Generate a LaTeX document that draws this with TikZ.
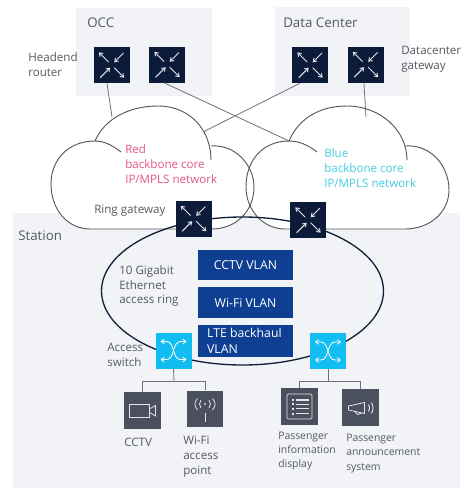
\documentclass[tikz,border=0pt]{standalone}
\usepackage{fontspec}
\setmainfont{Open Sans}
\usetikzlibrary{arrows.meta}
\definecolor{panel}{HTML}{F1F3F6}
\definecolor{navy}{HTML}{0D1B3B}
\definecolor{cyanbox}{HTML}{12BDF2}
\definecolor{vlanblue}{HTML}{0F3F92}
\definecolor{devgray}{HTML}{4B505F}
\definecolor{txt}{HTML}{555A60}
\definecolor{redtxt}{HTML}{E5577F}
\definecolor{bluetxt}{HTML}{45CDE2}
\definecolor{linegray}{HTML}{6E7278}
\definecolor{cloudline}{HTML}{54585E}
\definecolor{ringline}{HTML}{14203A}
\tikzset{
  panelbox/.style={fill=panel,draw=none},
  routerbox/.style={fill=navy,draw=none,minimum size=27pt,inner sep=0pt},
  switchbox/.style={fill=cyanbox,draw=none,minimum size=27pt,inner sep=0pt},
  devicebox/.style={fill=devgray,draw=none,minimum size=27.5pt,inner sep=0pt},
  vlanbox/.style={fill=vlanblue,draw=none,text=white,minimum width=71pt,inner sep=0pt,font=\fontsize{9.2}{11.8}\selectfont},
  lbl/.style={anchor=west,align=left,inner sep=0pt,text=txt,font=\fontsize{8.7}{11.2}\selectfont},
  biglbl/.style={anchor=west,align=left,inner sep=0pt,text=txt,font=\fontsize{10}{12}\selectfont},
  smalllbl/.style={anchor=west,align=left,inner sep=0pt,text=txt,font=\fontsize{7.8}{10.6}\selectfont},
  link/.style={draw=linegray,line width=.6pt},
  cloudedge/.style={draw=cloudline,line width=.7pt},
  ringedge/.style={draw=ringline,line width=1pt},
  iconline/.style={draw=white!88!navy,line width=.7pt,-{Straight Barb[length=2.4pt,width=3.4pt]}},
  swline/.style={draw=white,line width=.65pt,{Straight Barb[length=2.2pt,width=3.4pt]}-{Straight Barb[length=2.2pt,width=3.4pt]}},
  devline/.style={draw=white!85!devgray,line width=.6pt},
  routericon/.pic={
    \draw[iconline] (-3,-3) -- (-12.7,-12.7);
    \draw[iconline] (12,-12) -- (2.7,-2.7);
    \draw[iconline] (-11.3,12.7) -- (-1.3,2.7);
    \draw[iconline] (2.7,2.7) -- (12.7,12.7);
  },
  switchicon/.pic={
    \draw[swline] (-13,-9) -- (-7,-9) .. controls (1.5,-9) and (-1.5,9) .. (7,9) -- (13,9);
    \draw[swline] (13,-9) -- (7,-9) .. controls (-1.5,-9) and (1.5,9) .. (-7,9) -- (-13,9);
  },
  cameraicon/.pic={
    \draw[devline] (-12.7,-6) rectangle (7,6.5);
    \draw[devline] (7,-1.5) -- (13,-5) -- (13,5.5) -- (7,2);
  },
  wifiicon/.pic={
    \draw[devline] (0,4) -- (0,13);
    \fill[white!85!devgray] (0,-5) circle (1);
    \draw[devline] (-4,-9) .. controls (-6,-6.5) and (-6,-3.5) .. (-4,-1);
    \draw[devline] (4,-9) .. controls (6,-6.5) and (6,-3.5) .. (4,-1);
    \draw[devline] (-7.5,-10.5) .. controls (-11,-6.5) and (-11,-3.5) .. (-7.5,1);
    \draw[devline] (7.5,-10.5) .. controls (11,-6.5) and (11,-3.5) .. (7.5,1);
  },
  displayicon/.pic={
    \draw[devline,rounded corners=1pt] (-12.5,-12.5) rectangle (12.5,12.5);
    \foreach \yy in {-6.5,-2.2,2.3,7} {
      \fill[white!85!devgray] (-8,\yy-1) rectangle (-6,\yy+1);
      \draw[devline,line width=.8pt] (-3.5,\yy) -- (9,\yy);
    }
  },
  speakericon/.pic={
    \draw[devline] (-12,-1.5) -- (4,-5) -- (4,6) -- (-12,2.5) -- cycle;
    \draw[devline] (-6,3.5) -- (-3,7) -- (1,5.5);
    \draw[devline,line width=.7pt] (8,-3) .. controls (9.5,-1) and (9.5,2) .. (8,4);
    \draw[devline,line width=.7pt] (11,-5) .. controls (13,-2) and (13,3) .. (11,6);
  },
}
\begin{document}
\begin{tikzpicture}[x=.75pt,y=-.75pt]
\useasboundingbox (0,0) rectangle (474,500);
\fill[white] (0,0) rectangle (474,500);
% panels
\path[panelbox] (76,8) rectangle (212,96);
\path[panelbox] (275,7) rectangle (410,96);
\path[panelbox] (13,213) rectangle (460,488);
% cloud fills
\fill[white] (95,141) .. controls (105,118) and (130,106) .. (158,106) .. controls (190,106) and (211,125) .. (211,146)
  .. controls (235,144) and (254,165) .. (254,187) .. controls (254,212) and (235,229) .. (212,229) -- (90,229)
  .. controls (68,229) and (51,210) .. (51,184) .. controls (51,160) and (68,141) .. (95,141) -- cycle;
\fill[white] (289,141) .. controls (299,118) and (320,106) .. (347,106) .. controls (380,106) and (405,125) .. (405,146)
  .. controls (430,144) and (449,165) .. (449,190) .. controls (449,212) and (430,229) .. (405,229) -- (285,229)
  .. controls (263,229) and (246,210) .. (246,187) .. controls (246,160) and (263,141) .. (289,141) -- cycle;
% cloud outlines
\draw[cloudedge] (121,152) .. controls (112,145) and (104,141) .. (95,141) .. controls (68,141) and (51,160) .. (51,184)
  .. controls (51,210) and (68,229) .. (90,229) -- (212,229) .. controls (235,229) and (254,212) .. (254,187)
  .. controls (254,165) and (235,144) .. (211,146);
\draw[cloudedge] (95,141) .. controls (105,118) and (130,106) .. (158,106) .. controls (190,106) and (211,130) .. (211,160);
\draw[cloudedge] (317,152) .. controls (308,145) and (299,141) .. (289,141) .. controls (263,141) and (246,160) .. (246,187)
  .. controls (246,210) and (263,229) .. (285,229) -- (405,229) .. controls (430,229) and (449,212) .. (449,190)
  .. controls (449,165) and (430,144) .. (405,146);
\draw[cloudedge] (289,141) .. controls (299,118) and (320,106) .. (347,106) .. controls (380,106) and (407,130) .. (407,160);
% ring
\draw[ringedge] (242.5,291) ellipse [x radius=141, y radius=74];
% routers
\node[routerbox] (r1) at (111.5,65) {};
\node[routerbox] (r2) at (167,64.5) {};
\node[routerbox] (d1) at (310,65) {};
\node[routerbox] (d2) at (365.5,64.5) {};
\node[routerbox] (g1) at (193.5,218.5) {};
\node[routerbox] (g2) at (308,220) {};
\foreach \n in {r1,r2,d1,d2,g1,g2} \pic at (\n) {routericon};
% switches
\node[switchbox] (s1) at (173.5,350.5) {};
\node[switchbox] (s2) at (328,351) {};
\pic at (s1) {switchicon};
\pic at (s2) {switchicon};
% devices
\node[devicebox] (cam) at (142.5,410.5) {};
\node[devicebox] (wifi) at (205,409) {};
\node[devicebox] (disp) at (299.5,406.5) {};
\node[devicebox] (spk) at (360.5,407.5) {};
\pic at (cam) {cameraicon};
\pic at (wifi) {wifiicon};
\pic at (disp) {displayicon};
\pic at (spk) {speakericon};
% VLANs
\node[vlanbox,minimum height=22.5pt] (v1) at (245.5,265) {CCTV VLAN};
\node[vlanbox,minimum height=23pt] (v2) at (245.5,302.5) {Wi-Fi VLAN};
\node[vlanbox,minimum height=24pt,inner xsep=6.75pt,text width=57.5pt,align=flush left] (v3) at (245.5,341) {LTE~backhaul\\VLAN};
% connectors
\coordinate (cr1) at (112,117);
\coordinate (cr2) at (289,141);
\coordinate (cd1) at (203,132);
\coordinate (cd2) at (366,117);
\coordinate (j1) at (174,381);
\coordinate (j2) at (328,381);
\draw[link] (r1.-104) -- (cr1);
\draw[link] (r2.-99) -- (cr2);
\draw[link] (d1.-119) -- (cd1);
\draw[link] (d2.-95) -- (cd2);
\draw[link] (s1.south) -- (j1);
\draw[link] (s2.south) -- (j2);
\draw[link] (cam.north) |- (j1);
\draw[link] (wifi.north) |- (j1);
\draw[link] (disp.north) |- (j2);
\draw[link] (spk.north) |- (j2);
% labels
\node[biglbl] (tocc) at (87,23) {OCC};
\node[biglbl] (tdc) at (283,23) {Data Center};
\node[biglbl] (tst) at (18,236) {Station};
\node[lbl] (t1) at (28,64.5) {Headend\\router};
\node[lbl] (t2) at (401,59.5) {Datacenter\\gateway};
\node[lbl,text=redtxt] (t3) at (125,164) {Red\\backbone core\\IP/MPLS network};
\node[lbl,text=bluetxt] (t4) at (324,168) {Blue\\backbone core\\IP/MPLS network};
\node[lbl] (t5) at (94,211) {Ring gateway};
\node[lbl] (t6) at (119,286) {10 Gigabit\\Ethernet\\access ring};
\node[lbl] (t7) at (107,354.5) {Access\\switch};
\node[lbl] (t8) at (124,442) {CCTV};
\node[lbl] (t9) at (183,457) {Wi-Fi\\access\\point};
\node[smalllbl] (t10) at (278,451) {Passenger\\information\\display};
\node[smalllbl] (t11) at (346,453.5) {Passenger\\announcement\\system};
\end{tikzpicture}
\end{document}
